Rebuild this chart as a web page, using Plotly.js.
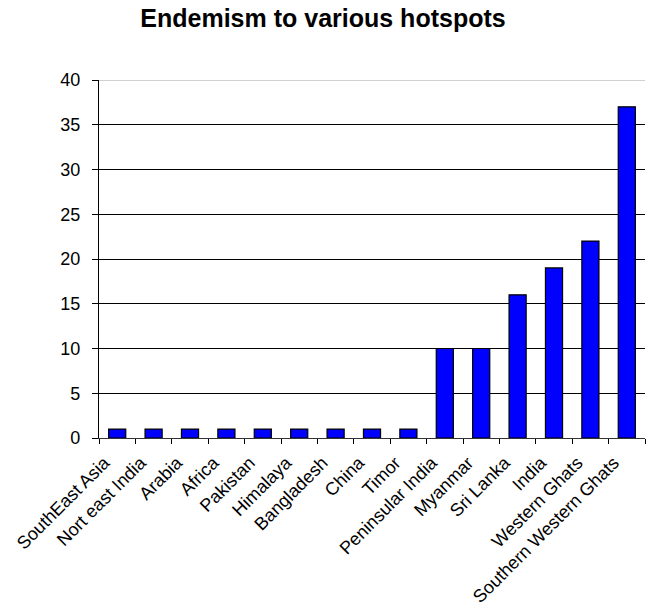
<!DOCTYPE html>
<html>
<head>
<meta charset="utf-8">
<script src="https://cdn.plot.ly/plotly-3.0.1.min.js"></script>
<style>html,body{margin:0;padding:0;background:#fff;}#chart{width:646px;height:609px;}</style>
</head>
<body>
<div id="chart"></div>
<script>
const categories = ["SouthEast Asia","Nort east India","Arabia","Africa","Pakistan","Himalaya","Bangladesh","China","Timor","Peninsular India","Myanmar","Sri Lanka","India","Western Ghats","Southern Western Ghats"];
const values = [1,1,1,1,1,1,1,1,1,10,10,16,19,22,37];
const yTicks = [0,5,10,15,20,25,30,35,40];

const trace = {
  type: 'bar',
  x: categories,
  y: values,
  marker: {color: '#0000FF', line: {color: '#000000', width: 1.2}},
  hoverinfo: 'none'
};

const layout = {
  width: 646, height: 609,
  margin: {l: 99, r: 1, t: 80, b: 171},
  paper_bgcolor: '#fff', plot_bgcolor: '#fff',
  font: {family: 'Liberation Sans, Arial, sans-serif', size: 18, color: '#000'},
  title: {text: '<b>Endemism to various hotspots</b>', x: 0.5, xref: 'container', xanchor: 'center', y: 0.970, yref: 'container', yanchor: 'middle', font: {size: 25, color: '#000'}},
  bargap: 0.53,
  showlegend: false,
  xaxis: {
    type: 'category',
    tickangle: -45,
    automargin: false,
    ticks: 'outside', ticklen: 5, tickcolor: '#000', tickson: 'boundaries',
    ticklabelshift: -13, ticklabelstandoff: 6,
    showline: true, linecolor: '#333', linewidth: 1.2,
    showgrid: false, zeroline: false,
    tickfont: {size: 18}
  },
  yaxis: {
    range: [0, 40],
    automargin: false,
    tickvals: yTicks,
    ticks: 'outside', ticklen: 6, tickcolor: '#000',
    ticklabelstandoff: 8,
    showline: true, linecolor: '#000', linewidth: 1.2,
    showgrid: true, gridcolor: '#000', gridwidth: 1,
    zeroline: false,
    tickfont: {size: 18}
  },
  shapes: [{type: 'line', xref: 'paper', yref: 'y', x0: 0, x1: 1, y0: 40, y1: 40, line: {color: '#c0c0c0', width: 1.5}}]
};

Plotly.newPlot('chart', [trace], layout, {displayModeBar: false, staticPlot: true});
</script>
</body>
</html>
